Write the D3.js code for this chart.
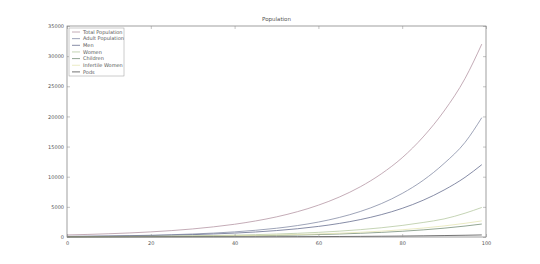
<!DOCTYPE html>
<html>
<head>
<meta charset="utf-8">
<script src="https://cdn.jsdelivr.net/npm/d3@7"></script>
<style>
  body { margin: 0; background: #fff; }
  text { font-family: "DejaVu Sans", sans-serif; fill: #555; }
</style>
</head>
<body>
<svg class="chart"></svg>
<script>
// generations
let years = [0, 5, 10, 15, 20, 25, 30, 35, 40, 45, 50, 55, 60, 65, 70, 75, 80, 85, 90, 95, 99];

let totalPopulation = [340, 430, 540, 675, 850, 1065, 1340, 1685, 2115, 2660, 3340, 4200, 5280, 6630, 8330, 10470, 13150, 16600, 20900, 26300, 32000];
let adultPopulation = [100, 131, 171, 223, 292, 382, 498, 651, 851, 1112, 1453, 1898, 2480, 3240, 4233, 5530, 7226, 9400, 12200, 15700, 19800];
let men = [88, 113, 145, 186, 239, 307, 393, 505, 648, 831, 1066, 1368, 1755, 2251, 2888, 3705, 4753, 6098, 7800, 9900, 12000];
let women = [50, 63, 80, 100, 125, 157, 197, 248, 311, 390, 490, 615, 772, 970, 1218, 1530, 1920, 2410, 3000, 3950, 4900];
let children = [30, 37, 46, 57, 71, 89, 110, 137, 170, 210, 261, 324, 402, 498, 618, 767, 951, 1180, 1464, 1816, 2150];
let infertileWomen = [40, 49, 61, 76, 94, 116, 143, 177, 219, 271, 335, 415, 513, 635, 785, 971, 1200, 1485, 1837, 2272, 2670];
let pods = [5, 6, 8, 10, 12, 15, 19, 23, 29, 36, 44, 55, 68, 84, 104, 128, 158, 195, 240, 290, 340];

let seriesNames = ["Total Population", "Adult Population", "Men", "Women", "Children", "Infertile Women", "Pods"];
let seriesValues = [totalPopulation, adultPopulation, men, women, children, infertileWomen, pods];
let colors = ["#b0909f", "#7d86a0", "#5e6688", "#b2c69c", "#6f8870", "#e4e4b0", "#444444"];

let xTicks = [0, 20, 40, 60, 80, 100];
let yTicks = [0, 5000, 10000, 15000, 20000, 25000, 30000, 35000];

let svgWidth = 540, svgHeight = 264;
let margin = { left: 67, right: 54, top: 26, bottom: 27 };

let svg = d3.select('.chart')
    .attr("width", svgWidth)
    .attr("height", svgHeight);

let x = d3.scaleLinear().domain([0, 100]).range([margin.left, svgWidth - margin.right]);
let y = d3.scaleLinear().domain([0, 35000]).range([svgHeight - margin.bottom, margin.top]);

// lines
let line = d3.line()
    .x(function (d) { return x(d[0]); })
    .y(function (d) { return y(d[1]); })
    .curve(d3.curveMonotoneX);

seriesValues.forEach(function (vals, i) {
    svg.append("path")
        .datum(years.map(function (yr, j) { return [yr, vals[j]]; }))
        .attr("d", line)
        .attr("fill", "none")
        .attr("stroke", colors[i])
        .attr("stroke-width", 0.75);
});

// frame
svg.append("rect")
    .attr("x", x(0))
    .attr("y", y(35000))
    .attr("width", x(100) - x(0))
    .attr("height", y(0) - y(35000))
    .attr("fill", "none")
    .attr("stroke", "#777")
    .attr("stroke-width", 0.7);

// axes, ticks inward like the original
let xAxis = d3.axisBottom(x).tickValues(xTicks).tickSize(-3).tickPadding(4).tickFormat(d3.format("d"));
let yAxis = d3.axisLeft(y).tickValues(yTicks).tickSize(-3).tickPadding(3).tickFormat(d3.format("d"));

svg.append("g")
    .attr("transform", "translate(0," + y(0) + ")")
    .call(xAxis);
svg.append("g")
    .attr("transform", "translate(" + x(0) + ",0)")
    .call(yAxis);

svg.append("g")
    .attr("transform", "translate(0," + y(35000) + ")")
    .call(d3.axisTop(x).tickValues(xTicks).tickSize(-3).tickFormat(""));
svg.append("g")
    .attr("transform", "translate(" + x(100) + ",0)")
    .call(d3.axisRight(y).tickValues(yTicks).tickSize(-3).tickFormat(""));

svg.selectAll(".domain").remove();
svg.selectAll(".tick line").attr("stroke", "#888").attr("stroke-width", 0.5);
svg.selectAll(".tick text")
    .style("font-size", "5px")
    .style("font-family", "DejaVu Sans, sans-serif")
    .attr("fill", "#666");

// title
svg.append("text")
    .attr("x", (x(0) + x(100)) / 2)
    .attr("y", 21)
    .attr("text-anchor", "middle")
    .style("font-size", "5.5px")
    .text("Population");

// legend
let legend = svg.append("g").attr("transform", "translate(69,28)");
legend.append("rect")
    .attr("width", 55)
    .attr("height", 48)
    .attr("fill", "#fff")
    .attr("stroke", "#999")
    .attr("stroke-width", 0.5);

seriesNames.forEach(function (name, i) {
    let row = legend.append("g").attr("transform", "translate(0," + (4 + i * 6.65) + ")");
    row.append("line")
        .attr("x1", 3).attr("x2", 11)
        .attr("stroke", colors[i])
        .attr("stroke-width", 0.75);
    row.append("text")
        .attr("x", 14)
        .attr("y", 1.8)
        .style("font-size", "5px")
        .attr("fill", "#666")
        .text(name);
});
</script>
</body>
</html>
